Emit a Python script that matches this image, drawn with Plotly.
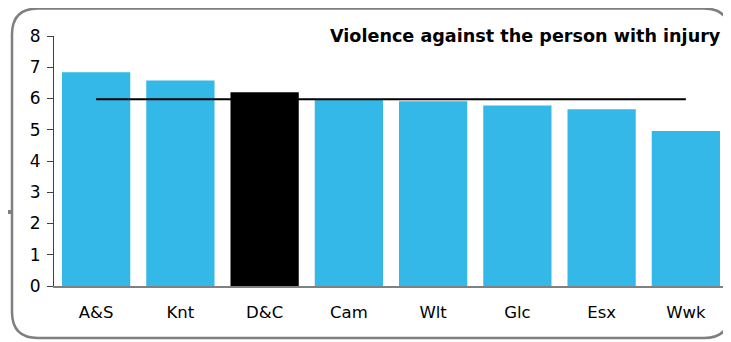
import plotly.graph_objects as go

categories = ["A&S", "Knt", "D&C", "Cam", "Wlt", "Glc", "Esx", "Wwk"]
values = [6.84, 6.58, 6.2, 5.96, 5.91, 5.78, 5.66, 4.96]
highlight = "D&C"
average = 5.98
y_ticks = [0, 1, 2, 3, 4, 5, 6, 7, 8]
title_text = "Violence against the person with injury"

# page body has an 8px margin; figure is sized to fit the 731x342 window
OFF = 8
W, H = 731 - OFF, 342 - OFF
# plot area in window pixels: x 54..728, y 36..286
L, R, T, B = 54 - OFF, 731 - 728, 36 - OFF, 342 - 286
pw = W - L - R
ph = H - T - B

def px(x):  # window pixel -> paper
    return (x - OFF - L) / pw

def py(y):
    return (H - B - (y - OFF)) / ph

colors = ["#000000" if c == highlight else "#33B8E8" for c in categories]

fig = go.Figure()
fig.add_trace(go.Bar(x=categories, y=values, marker=dict(color=colors, line=dict(width=0)),
                     showlegend=False, hoverinfo="x+y"))
fig.add_trace(go.Scatter(x=[categories[0], categories[-1]], y=[average, average], mode="lines",
                         line=dict(color="#000000", width=2), showlegend=False, hoverinfo="skip"))

# rounded frame
x0, x1, y0, y1, r = 12, 730, 8.5, 338, 26
path = (f"M {px(x0+r)},{py(y0)} L {px(x1-r)},{py(y0)} "
        f"Q {px(x1)},{py(y0)} {px(x1)},{py(y0+r)} "
        f"L {px(x1)},{py(y1-r)} Q {px(x1)},{py(y1)} {px(x1-r)},{py(y1)} "
        f"L {px(x0+r)},{py(y1)} Q {px(x0)},{py(y1)} {px(x0)},{py(y1-r)} "
        f"L {px(x0)},{py(y0+r)} Q {px(x0)},{py(y0)} {px(x0+r)},{py(y0)} Z")
fig.add_shape(type="path", path=path, xref="paper", yref="paper",
              line=dict(color="#7f7f7f", width=2.5), layer="below")
fig.add_shape(type="line", xref="paper", yref="paper", x0=px(0), x1=px(x0), y0=py(212), y1=py(212),
              line=dict(color="#7f7f7f", width=4))

fig.add_annotation(text=f"<b>{title_text}</b>", xref="paper", yref="paper",
                   x=px(723), y=py(36), xanchor="right", yanchor="middle", showarrow=False,
                   font=dict(family="DejaVu Sans, Arial, sans-serif", size=17.6, color="#000000"))

fig.update_layout(
    width=W, height=H,
    margin=dict(l=L, r=R, t=T, b=B),
    paper_bgcolor="white", plot_bgcolor="white",
    bargap=0.19,
    font=dict(family="DejaVu Sans, Arial, sans-serif", size=17, color="#000000"),
)
fig.update_xaxes(showline=True, linecolor="#808080", linewidth=1.5, ticks="", showgrid=False,
                 tickfont=dict(size=16.5), ticklabelstandoff=10)
fig.update_yaxes(range=[0, 8], tickvals=y_ticks, showline=True, linecolor="#404040", linewidth=1,
                 ticks="outside", ticklen=6, tickcolor="#404040", showgrid=False, zeroline=False,
                 tickfont=dict(size=17), ticklabelstandoff=3)

fig.write_html("out.html")
